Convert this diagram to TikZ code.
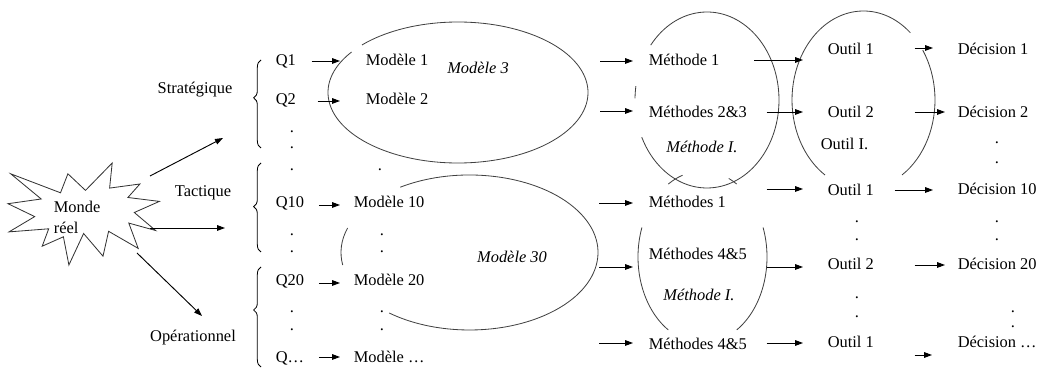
\documentclass[tikz,border=0pt]{standalone}
\usepackage{fontspec}
\setmainfont{Liberation Serif}
\usepackage{tikz}
\usetikzlibrary{arrows.meta, positioning, calc, decorations.pathreplacing}
\def\px{0.03cm}
\tikzset{
	lbl/.style ={anchor=west, inner sep=0.5pt, text height=0.7em, text depth=0.2em, font=\fontsize{14}{18}\selectfont},
	txt/.style ={anchor=center, inner sep=0.5pt, font=\fontsize{14}{18}\selectfont},
	ital/.style={anchor=center, inner sep=0.5pt, font=\fontsize{14}{18}\selectfont\itshape},
	pnt/.style ={anchor=base, inner sep=0pt, font=\fontsize{14}{18}\selectfont},
	arr/.style ={-{Triangle[length=2.4mm, width=1.7mm]}, line width=0.8pt},
	% ellipse, brace and burst styles
	ell/.style ={line width=0.7pt, black!75},
	brc/.style ={decorate, decoration={brace, amplitude=0.22cm, aspect=#1}, line width=0.7pt},
	seal/.style={draw=black!80, line width=0.7pt, fill=white},
}
\begin{document}
\begin{tikzpicture}[x=\px, y=\px]
	\useasboundingbox (0,0) rectangle (1037,372);
	% monde reel
	\draw[seal] (85.5,181.6) -- (67.9,198.2) -- (60.5,179.2) -- (10.7,198.2) -- (41.2,173) -- (8,168.3) -- (34.7,155.4) -- (9,140.1) -- (48.7,143.2) -- (42.2,125.8) -- (63.4,135.2) -- (68.9,107) -- (83.6,138.5) -- (103,115.8) -- (108.6,140.7) -- (138.2,123.6) -- (128.8,148.9) -- (155.6,141.5) -- (134.3,159.5) -- (159.4,170.6) -- (127.9,174.5) -- (139.9,188) -- (109.6,183.9) -- (112.2,209) -- cycle;
	\node[anchor=west, align=left, inner sep=0.5pt, font=\fontsize{14}{18}\selectfont] (monde) at (53,155) {Monde\\réel};
	\node[txt] (strat) at (195,282) {Stratégique};
	\node[txt] (tact) at (203,179) {Tactique};
	\node[txt] (oper) at (193,34) {Opérationnel};
	\coordinate (w1) at (150,196); \coordinate (w2) at (150,144); \coordinate (w3) at (137,119);
	\coordinate (t1) at (223,234); \coordinate (t2) at (225,144); \coordinate (t3) at (202,56);
	\draw[arr] (w1) -- (t1);
	\draw[arr] (w2) -- (t2);
	\draw[arr] (w3) -- (t3);
	% braces
	\draw[brc=0.57] (261,224) -- (261,312);
	\draw[brc=0.51] (261,120) -- (261,209);
	\draw[brc=0.57] (261,5) -- (261,105);
	% ellipses
	\draw[ell] (458,279.5) ++(145:130 and 70.5) arc[start angle=145, end angle=497.6, x radius=130, y radius=70.5];
	\draw[ell] (469.5,119.5) ++(122.6:128.5 and 77.5) arc[start angle=122.6, end angle=-128.7, x radius=128.5, y radius=77.5];
	\draw[ell] (469.5,119.5) ++(161.6:128.5 and 77.5) arc[start angle=161.6, end angle=189.3, x radius=128.5, y radius=77.5];
	\draw[ell] (707,272) ++(141.4:72 and 88) arc[start angle=141.4, end angle=-155, x radius=72, y radius=88];
	\draw[ell] (707,272) ++(171:72 and 88) arc[start angle=171, end angle=179, x radius=72, y radius=88];
	\draw[ell] (702.5,115) ++(160:64.5 and 86) arc[start angle=160, end angle=238, x radius=64.5, y radius=86];
	\draw[ell] (702.5,115) ++(20:64.5 and 86) arc[start angle=20, end angle=-58, x radius=64.5, y radius=86];
	\draw[ell] (702.5,115) ++(108:64.5 and 86) arc[start angle=108, end angle=122, x radius=64.5, y radius=86];
	\draw[ell] (702.5,115) ++(58:64.5 and 86) arc[start angle=58, end angle=66, x radius=64.5, y radius=86];
	\draw[ell] (863.5,272) ++(49:71.5 and 89) arc[start angle=49, end angle=237.4, x radius=71.5, y radius=89];
	\draw[ell] (863.5,272) ++(34:71.5 and 89) arc[start angle=34, end angle=-57.4, x radius=71.5, y radius=89];
	% questions
	\node[lbl] (q1) at (275,309) {Q1};
	\node[lbl] (q2) at (275,270) {Q2};
	\node[lbl] (q10) at (275,167) {Q10};
	\node[lbl] (q20) at (275,89) {Q20};
	\node[lbl] (qn) at (275,12) {Q…};
	% modeles
	\node[lbl] (mod1) at (365,309) {Modèle 1};
	\node[lbl] (mod2) at (365,270) {Modèle 2};
	\node[lbl] (mod10) at (353,167) {Modèle 10};
	\node[lbl] (mod20) at (353,89) {Modèle 20};
	\node[lbl] (modn) at (353,12) {Modèle …};
	\node[ital] (mod3) at (478,304) {Modèle 3};
	\node[ital] (mod30) at (512,115) {Modèle 30};
	% methodes
	\node[lbl] (meth1) at (648,309) {Méthode 1};
	\node[lbl] (meth23) at (648,257) {Méthodes 2\&3};
	\node[ital] (methIa) at (702,225) {Méthode I.};
	\node[lbl] (meths1) at (648,167) {Méthodes 1};
	\node[lbl] (meth45a) at (648,115) {Méthodes 4\&5};
	\node[ital] (methIb) at (699,77) {Méthode I.};
	\node[lbl] (meth45b) at (648,25) {Méthodes 4\&5};
	% outils
	\node[lbl] (out1a) at (827,320) {Outil 1};
	\node[lbl] (out2a) at (827,257) {Outil 2};
	\node[lbl] (outI) at (820,225) {Outil I.};
	\node[lbl] (out1b) at (827,179) {Outil 1};
	\node[lbl] (out2b) at (827,105) {Outil 2};
	\node[lbl] (out1c) at (827,27) {Outil 1};
	% decisions
	\node[lbl] (dec1) at (957,320) {Décision 1};
	\node[lbl] (dec2) at (957,257) {Décision 2};
	\node[lbl] (dec10) at (957,180) {Décision 10};
	\node[lbl] (dec20) at (957,105) {Décision 20};
	\node[lbl] (decn) at (957,27) {Décision …};
	% dots
	\foreach \n/\x/\y in {pa/292/239, pb/292/223, pc/292/201, pd/292/136, pe/292/119, pf/292/59, pg/292/41,
		ph/380/201, pi/382/136, pj/382/119, pk/382/59, pl/382/41,
		pm/857/149, pn/857/131, po/857/73, pp/857/54,
		pq/997/228, pr/997/208, ps/997/149, pt/997/131, pu/1013/59, pv/1013/44}
		\node[pnt] (\n) at (\x,\y) {.};
	% row arrows
	\foreach \a/\b/\s/\e/\d in {q1/mod1/15/25/2, q2/mod2/21/25/1, q10/mod10/14/13/0, q20/mod20/14/13/0, qn/modn/14/13/3,
		mod1/meth1/171/15/2, mod2/meth23/171/15/4, mod10/meths1/174/15/2, mod20/meth45a/174/15/-10, modn/meth45b/174/15/4,
		meth1/out1a/34/24/-8, meth23/out2a/19/24/3, meths1/out1b/40/24/4, meth45a/out2b/19/24/0, meth45b/out1c/19/24/2,
		out1a/dec1/40/24/4, out2a/dec2/40/12/3, out1b/dec10/20/24/2, out2b/dec20/40/12/2, out1c/decn/40/25/-10}
		\draw[arr, shorten <=\s*\px, shorten >=\e*\px] ([yshift=\d*\px]\b.west -| \a.east) -- ([yshift=\d*\px]\b.west);
\end{tikzpicture}
\end{document}
